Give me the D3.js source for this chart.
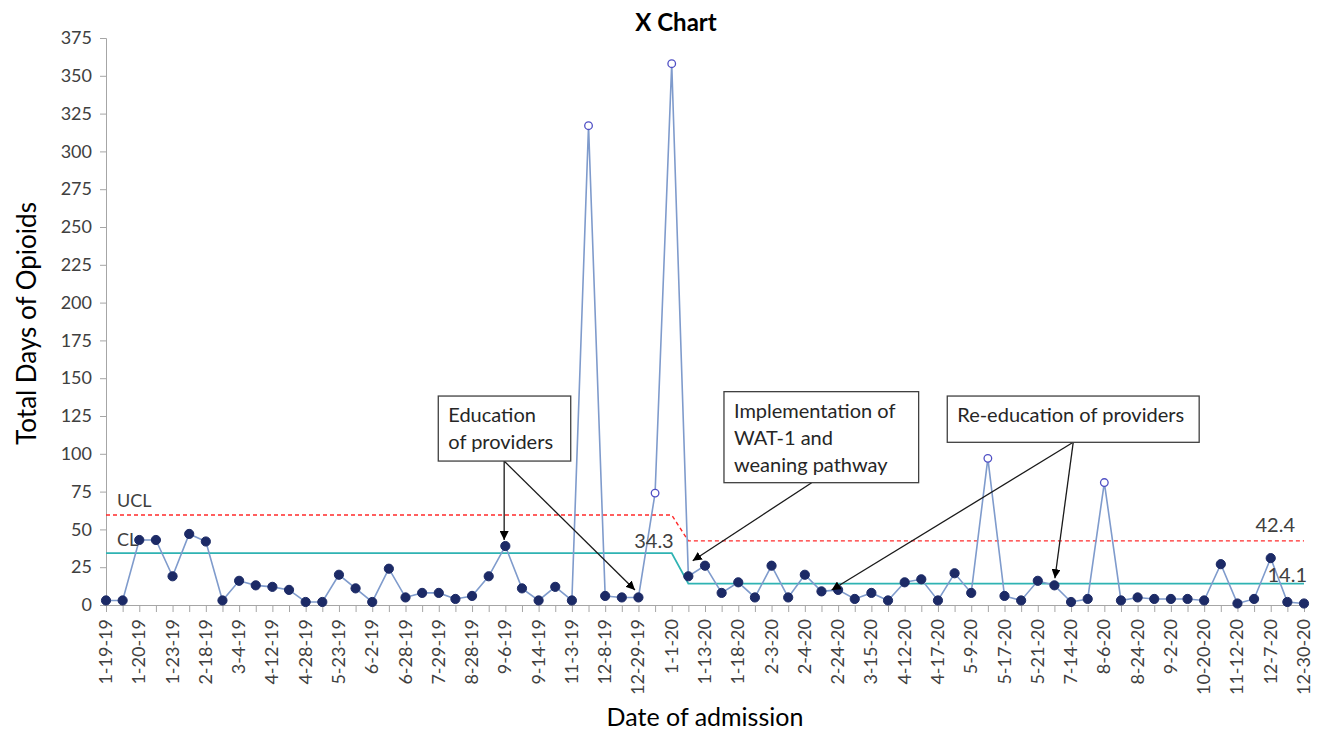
<!DOCTYPE html>
<html>
<head>
<meta charset="utf-8">
<script src="https://cdn.jsdelivr.net/npm/d3@7"></script>
<style>
  body { margin: 0; background: #fff; }
  svg text { font-family: Lato, "Noto Sans", sans-serif; }
</style>
</head>
<body>
<svg id="chart" width="1327" height="734"></svg>
<script>
// Admission dates shown on the axis (every second admission is labelled)
const dateLabels = [
  "1-19-19", "1-20-19", "1-23-19", "2-18-19", "3-4-19", "4-12-19", "4-28-19",
  "5-23-19", "6-2-19", "6-28-19", "7-29-19", "8-28-19", "9-6-19", "9-14-19",
  "11-3-19", "12-8-19", "12-29-19", "1-1-20", "1-13-20", "1-18-20", "2-3-20",
  "2-4-20", "2-24-20", "3-15-20", "4-12-20", "4-17-20", "5-9-20", "5-17-20",
  "5-21-20", "7-14-20", "8-6-20", "8-24-20", "9-2-20", "10-20-20", "11-12-20",
  "12-7-20", "12-30-20"
];

// Total days of opioids, one value per admission
const totalDays = [
  3, 3, 43, 43, 19, 47, 42, 3, 16, 13, 12, 10, 2, 2, 20, 11, 2, 24, 5, 8,
  8, 4, 6, 19, 39, 11, 3, 12, 3, 317, 6, 5, 5, 74, 358,
  19, 26, 8, 15, 5, 26, 5, 20, 9, 10, 4, 8, 3, 15, 17, 3, 21, 8, 97, 6,
  3, 16, 13, 2, 4, 81, 3, 5, 4, 4, 4, 3, 27, 1, 4, 31, 2, 1
];

// Two phases: before and after the WAT-1 / weaning pathway change
const phaseStart = [0, 35];
const centerLine = [34.3, 14.1];
const upperLimit = [59.5, 42.4];

const yTicks = d3.range(0, 376, 25);

// Text call-outs: box and arrow positions in data units (admission index, days)
const callouts = [
  { lines: ["Education", "of providers"], box: [19.97, 27.93, 138.2, 95.2],
    from: [23.93, 95.2], to: [[23.93, 43], [31.79, 9.9]] },
  { lines: ["Implementation of", "WAT-1 and", "weaning pathway"], box: [37.14, 48.84, 141.1, 80.9],
    from: [42.41, 80.9], to: [[35.26, 29.3]] },
  { lines: ["Re-education of providers"], box: [50.56, 65.7, 138.2, 107.6],
    from: [58.13, 107.6], to: [[43.61, 9.9], [57.03, 17.7]] }
];

const svg = d3.select("#chart");
const margin = { top: 38, right: 23, bottom: 129, left: 106 };
const W = 1327, H = 734;

const n = totalDays.length;
const x = d3.scaleLinear().domain([0, n - 1]).range([margin.left, W - margin.right]);
const y = d3.scaleLinear().domain([0, 375]).range([H - margin.bottom, margin.top]);

const phaseOf = i => (i >= phaseStart[1] ? 1 : 0);
const pts = totalDays.map((v, i) => ({ i, v, out: v > upperLimit[phaseOf(i)] }));

const axisColor = "#a6a6a6";
const textColor = "#404040";

// Y axis
const yAxis = svg.append("g")
  .attr("transform", `translate(${margin.left},0)`)
  .call(d3.axisLeft(y).tickValues(yTicks).tickSize(6).tickPadding(8));
yAxis.select(".domain").attr("stroke", axisColor);
yAxis.selectAll(".tick line").attr("stroke", axisColor);
yAxis.selectAll(".tick text").attr("fill", textColor).style("font-size", "18px");

// X axis: a tick at every admission, label at every second one
const xAxis = svg.append("g")
  .attr("transform", `translate(0,${H - margin.bottom})`)
  .call(d3.axisBottom(x).tickValues(d3.range(n)).tickSize(7).tickFormat(() => ""));
xAxis.select(".domain").attr("stroke", axisColor);
xAxis.selectAll(".tick line").attr("stroke", axisColor);

svg.append("g").selectAll("text")
  .data(dateLabels)
  .join("text")
  .attr("transform", (d, k) => `translate(${x(k * 2) + 6},${H - margin.bottom + 14}) rotate(-90)`)
  .attr("text-anchor", "end")
  .attr("fill", textColor)
  .style("font-size", "18px")
  .text(d => d);

// Limit lines built per admission so the phase change shows as a slope
const limitLine = arr => d3.line().x(d => x(d.i)).y(d => y(arr[phaseOf(d.i)]));

svg.append("path")
  .datum(pts)
  .attr("d", limitLine(centerLine))
  .attr("fill", "none")
  .attr("stroke", "#2fb3b3")
  .attr("stroke-width", 1.8);

svg.append("path")
  .datum(pts)
  .attr("d", limitLine(upperLimit))
  .attr("fill", "none")
  .attr("stroke", "#ff2a2a")
  .attr("stroke-width", 1.4)
  .attr("stroke-dasharray", "4,3");

// Data line and markers
svg.append("path")
  .datum(pts)
  .attr("d", d3.line().x(d => x(d.i)).y(d => y(d.v)))
  .attr("fill", "none")
  .attr("stroke", "#7f9bcc")
  .attr("stroke-width", 1.6);

svg.append("g").selectAll("circle")
  .data(pts)
  .join("circle")
  .attr("cx", d => x(d.i))
  .attr("cy", d => y(d.v))
  .attr("r", d => (d.out ? 3.8 : 4.6))
  .attr("fill", d => (d.out ? "#fff" : "#1c2a66"))
  .attr("stroke", d => (d.out ? "#4f4fc4" : "#1c2a66"))
  .attr("stroke-width", d => (d.out ? 1.3 : 1));

// Limit labels
const lblSize = "18px";
svg.append("text").attr("x", x(0) + 11).attr("y", y(upperLimit[0]) - 8)
  .attr("fill", textColor).style("font-size", lblSize).text("UCL");
svg.append("text").attr("x", x(0) + 11).attr("y", y(centerLine[0]) - 7)
  .attr("fill", textColor).style("font-size", lblSize).text("CL");
svg.append("text").attr("x", x(phaseStart[1] - 1) + 2).attr("y", y(centerLine[0]) - 5)
  .attr("text-anchor", "end").attr("fill", textColor).style("font-size", "20px")
  .text(centerLine[0].toFixed(1));
svg.append("text").attr("x", x(n - 1) - 9).attr("y", y(upperLimit[1]) - 9)
  .attr("text-anchor", "end").attr("fill", textColor).style("font-size", "20px")
  .text(upperLimit[1].toFixed(1));
svg.append("text").attr("x", x(n - 1) + 3).attr("y", y(centerLine[1]) - 2)
  .attr("text-anchor", "end").attr("fill", textColor).style("font-size", "20px")
  .text(centerLine[1].toFixed(1));

// Call-out boxes with arrows
const defs = svg.append("defs");
defs.append("marker")
  .attr("id", "arrowhead")
  .attr("viewBox", "0 0 10 10")
  .attr("refX", 10).attr("refY", 5)
  .attr("markerWidth", 9).attr("markerHeight", 9)
  .attr("markerUnits", "userSpaceOnUse")
  .attr("orient", "auto")
  .append("path").attr("d", "M0,0 L10,5 L0,10 Z").attr("fill", "#000");

const co = svg.append("g");
callouts.forEach(c => {
  c.to.forEach(t => {
    co.append("line")
      .attr("x1", x(c.from[0])).attr("y1", y(c.from[1]))
      .attr("x2", x(t[0])).attr("y2", y(t[1]))
      .attr("stroke", "#1a1a1a").attr("stroke-width", 1.3)
      .attr("marker-end", "url(#arrowhead)");
  });
  const bx = x(c.box[0]), by = y(c.box[2]);
  co.append("rect")
    .attr("x", bx).attr("y", by)
    .attr("width", x(c.box[1]) - bx).attr("height", y(c.box[3]) - by)
    .attr("fill", "#fff").attr("stroke", "#404040").attr("stroke-width", 1.3);
  c.lines.forEach((ln, k) => {
    co.append("text")
      .attr("x", bx + 10).attr("y", by + 26 + k * 27)
      .attr("fill", "#262626").style("font-size", "20px")
      .text(ln);
  });
});

// Titles
svg.append("text").attr("x", 676).attr("y", 31).attr("text-anchor", "middle")
  .attr("fill", "#000").style("font-size", "24px").style("font-weight", "bold")
  .text("X Chart");
svg.append("text").attr("transform", `translate(36,${(margin.top + H - margin.bottom) / 2 + 2}) rotate(-90)`)
  .attr("text-anchor", "middle").attr("fill", "#000").style("font-size", "26px")
  .text("Total Days of Opioids");
svg.append("text").attr("x", 705).attr("y", 726).attr("text-anchor", "middle")
  .attr("fill", "#000").style("font-size", "25px")
  .text("Date of admission");
</script>
</body>
</html>
